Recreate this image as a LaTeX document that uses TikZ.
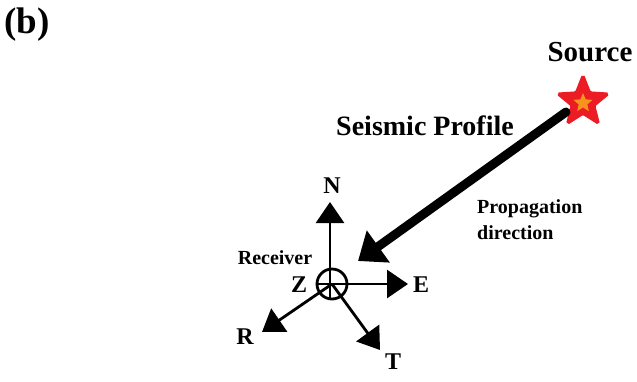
\documentclass[tikz,border=0pt]{standalone}
\usepackage{fontspec}
\setmainfont{Liberation Serif}
\usetikzlibrary{shapes.geometric,arrows.meta}
\definecolor{starred}{RGB}{236,28,36}
\definecolor{starorange}{RGB}{247,148,29}
\begin{document}
\begin{tikzpicture}[x=1pt,y=-1pt,
  lbl/.style={font=\bfseries, inner sep=0pt},
  axis/.style={line width=2.8pt, -{Triangle[length=21pt,width=28pt]}},
  prop/.style={line width=9pt, line cap=round, -{Triangle[length=25pt,width=38pt]}}]
\useasboundingbox (0,0) rectangle (637,381);
\node[lbl, font=\fontsize{37}{40}\selectfont\bfseries] (b) at (27,25) {(b)};
\node[lbl, font=\fontsize{29}{32}\selectfont\bfseries] (src) at (590,52) {Source};
\node[star, star points=5, star point ratio=2.3, minimum size=52pt, fill=starred, draw=starred, line width=3pt, rounded corners=1.5pt, inner sep=0pt] (star) at (583,102) {};
\node[star, star points=5, star point ratio=2.2, minimum size=20pt, fill=starorange, inner sep=0pt] (starin) at (583,103) {};
\node[lbl, font=\fontsize{28}{31}\selectfont\bfseries] (sp) at (425,126) {Seismic Profile};
\node[lbl, font=\fontsize{20}{26}\selectfont\bfseries, align=left, anchor=west] (pd) at (477,220) {Propagation\\direction};
\coordinate (pstart) at (566,112);
\coordinate (pend) at (358,261);
\draw[prop] (pstart) -- (pend);
% receiver
\coordinate (c) at (332,284);
\node[circle, draw, line width=2.8pt, minimum size=30pt, inner sep=0pt] (rc) at (c) {};
\draw[line width=2.8pt] (rc.west) -- (rc.east);
\coordinate (ntip) at (330,202);
\coordinate (etip) at (408,284);
\coordinate (rtip) at (262,332);
\coordinate (ttip) at (380,350);
\draw[axis] (330,298) -- (ntip);
\draw[axis] (c) -- (etip);
\draw[axis] (c) -- (rtip);
\draw[axis] (c) -- (ttip);
\node[lbl, font=\fontsize{24}{26}\selectfont\bfseries] (N) at (332,186) {N};
\node[lbl, font=\fontsize{24}{26}\selectfont\bfseries] (E) at (421,285) {E};
\node[lbl, font=\fontsize{24}{26}\selectfont\bfseries] (R) at (245,337) {R};
\node[lbl, font=\fontsize{24}{26}\selectfont\bfseries] (T) at (393,362) {T};
\node[lbl, font=\fontsize{24}{26}\selectfont\bfseries] (Z) at (299,285) {Z};
\node[lbl, font=\fontsize{20}{24}\selectfont\bfseries] (rec) at (275,258) {Receiver};
\end{tikzpicture}
\end{document}
